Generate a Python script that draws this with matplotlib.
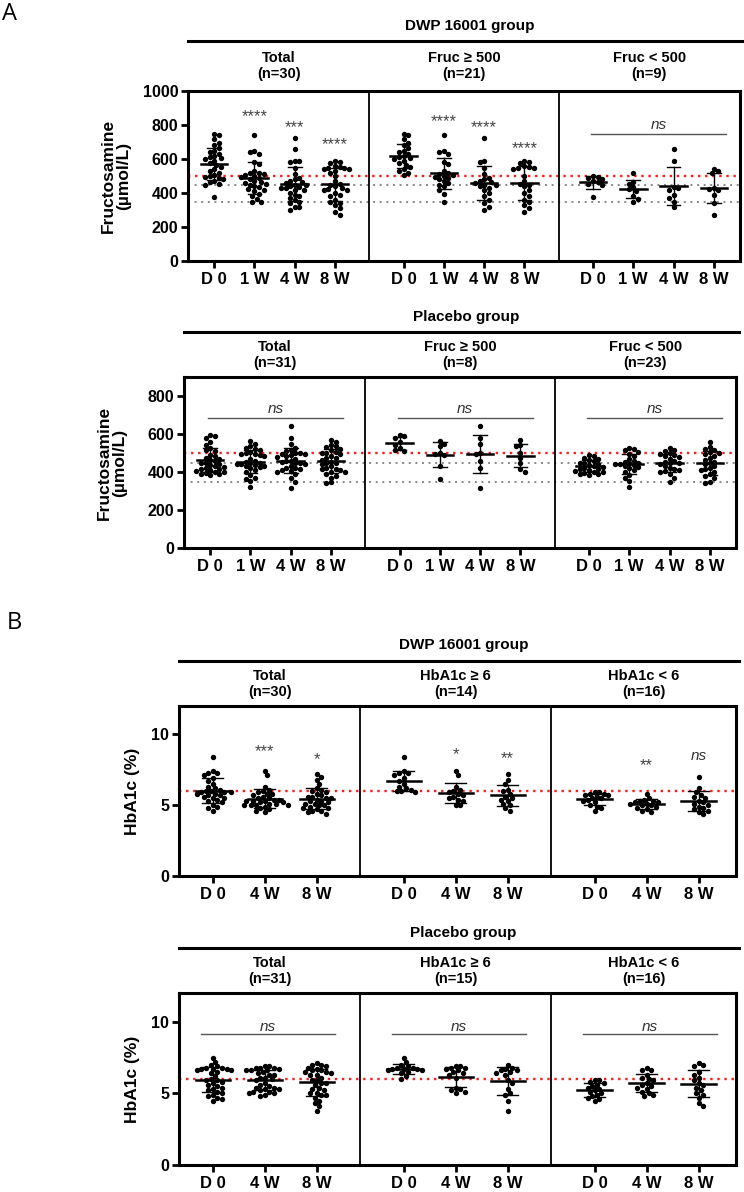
import matplotlib
matplotlib.use('Agg')
import matplotlib.pyplot as plt
import matplotlib.transforms as mtransforms
from matplotlib.lines import Line2D
import numpy as np

plt.rcParams['font.family'] = ['Liberation Sans', 'DejaVu Sans']
plt.rcParams['font.weight'] = 'bold'

# ---- data ----
cats_fru = ['D 0', '1 W', '4 W', '8 W']
cats_hba = ['D 0', '4 W', '8 W']

# Fructosamine, DWP 16001 group
dwp_fru_hi = [  # Fruc >= 500, n=21
    [750, 740, 715, 695, 680, 665, 650, 640, 630, 620, 612, 605, 598, 590, 578, 565, 555, 540, 528, 518, 505],
    [740, 650, 640, 630, 580, 570, 530, 520, 510, 505, 500, 495, 490, 480, 470, 460, 450, 440, 420, 395, 345],
    [725, 590, 580, 550, 510, 490, 480, 470, 465, 460, 450, 445, 440, 430, 420, 400, 380, 360, 340, 320, 300],
    [590, 585, 575, 560, 555, 550, 545, 540, 500, 470, 455, 450, 440, 420, 400, 380, 360, 345, 330, 310, 290],
]
dwp_fru_lo = [  # Fruc < 500, n=9
    [500, 495, 490, 480, 470, 465, 455, 445, 375],
    [520, 465, 455, 435, 425, 410, 385, 365, 350],
    [660, 590, 435, 430, 420, 390, 370, 350, 320],
    [540, 530, 515, 430, 425, 420, 390, 340, 270],
]

# Fructosamine, placebo group
pla_fru_hi = [  # n=8
    [595, 590, 580, 560, 540, 525, 515, 512],
    [565, 545, 535, 500, 495, 490, 430, 365],
    [640, 580, 545, 500, 495, 460, 420, 315],
    [570, 540, 535, 500, 475, 450, 415, 400],
]
pla_fru_lo = [  # n=23
    [490, 482, 475, 468, 462, 456, 450, 445, 440, 435, 430, 426, 422, 418, 414, 410, 406, 402, 398, 394, 390, 387, 385],
    [525, 520, 515, 505, 495, 485, 470, 460, 455, 450, 445, 440, 440, 435, 430, 425, 420, 410, 400, 385, 370, 355, 320],
    [525, 515, 510, 500, 495, 490, 485, 480, 470, 460, 455, 450, 445, 440, 430, 420, 415, 410, 405, 400, 390, 370, 350],
    [560, 530, 520, 515, 505, 500, 495, 485, 475, 465, 455, 450, 440, 430, 420, 415, 410, 400, 390, 380, 370, 345, 340],
]

# HbA1c, DWP 16001 group
dwp_hba_hi = [  # n=14
    [8.4, 7.4, 7.3, 7.3, 7.1, 6.9, 6.7, 6.5, 6.3, 6.2, 6.1, 6.0, 6.0, 5.9],
    [7.4, 7.1, 6.3, 6.1, 6.0, 5.9, 5.8, 5.7, 5.6, 5.5, 5.4, 5.3, 5.0, 5.0],
    [7.2, 6.8, 6.5, 6.1, 6.0, 5.8, 5.6, 5.5, 5.4, 5.3, 5.1, 5.0, 4.8, 4.6],
]
dwp_hba_lo = [  # n=16
    [5.9, 5.9, 5.8, 5.8, 5.7, 5.7, 5.6, 5.5, 5.5, 5.4, 5.3, 5.2, 5.0, 4.9, 4.8, 4.6],
    [5.8, 5.5, 5.4, 5.3, 5.3, 5.2, 5.2, 5.1, 5.1, 5.0, 5.0, 4.9, 4.8, 4.7, 4.6, 4.5],
    [7.0, 6.2, 5.9, 5.7, 5.6, 5.5, 5.3, 5.2, 5.1, 5.0, 4.9, 4.8, 4.7, 4.6, 4.5, 4.4],
]

# HbA1c, placebo group
pla_hba_hi = [  # n=15
    [7.5, 7.2, 7.0, 6.9, 6.8, 6.8, 6.7, 6.7, 6.7, 6.6, 6.6, 6.5, 6.4, 6.2, 6.0],
    [6.9, 6.9, 6.8, 6.8, 6.7, 6.6, 6.5, 6.4, 6.3, 6.1, 5.4, 5.3, 5.2, 5.1, 5.0],
    [7.0, 6.8, 6.7, 6.6, 6.6, 6.5, 6.4, 6.3, 5.9, 5.7, 5.3, 5.0, 4.9, 4.5, 3.8],
]
pla_hba_lo = [  # n=16
    [5.9, 5.9, 5.8, 5.7, 5.6, 5.5, 5.4, 5.3, 5.2, 5.1, 5.0, 4.9, 4.8, 4.7, 4.6, 4.5],
    [6.8, 6.6, 6.6, 6.3, 6.1, 6.0, 5.9, 5.7, 5.6, 5.5, 5.4, 5.3, 5.1, 5.0, 4.9, 4.8],
    [7.1, 7.0, 6.9, 6.5, 6.3, 6.1, 5.9, 5.7, 5.6, 5.4, 5.2, 5.0, 4.9, 4.7, 4.3, 4.1],
]


def total(hi, lo):
    return [a + b for a, b in zip(hi, lo)]


W, H = 744, 1192
fig = plt.figure(figsize=(W / 100, H / 100), dpi=100)


def rect(left, top, right, bottom):
    return [left / W, 1 - bottom / H, (right - left) / W, (bottom - top) / H]


def swarm(vals, ppy, ppx, d=4.6):
    y = np.asarray(vals, float) * ppy
    order = np.argsort(-y, kind='stable')
    xs = np.zeros(len(y))
    done = []
    step = d * 0.5
    for n, i in enumerate(order):
        for k in range(60):
            if k == 0:
                cands = [0.0]
            elif n % 2:
                cands = [k * step, -k * step]
            else:
                cands = [-k * step, k * step]
            hit = None
            for c in cands:
                if all((c - xs[j]) ** 2 + (y[i] - y[j]) ** 2 >= d * d for j in done):
                    hit = c
                    break
            if hit is not None:
                xs[i] = hit
                break
        done.append(i)
    return xs / ppx


def draw_row(box, title, tys, heads, panels, cats, off, ylim, yticks, ylabel, ylab_x,
             refs, notes, half, cap, xpad=(0.65, 0.65)):
    left, top, right, bottom = box
    ax = fig.add_axes(rect(left, top, right, bottom))
    n = len(cats)
    xmin = -xpad[0]
    xmax = (len(panels) - 1) * off + n - 1 + xpad[1]
    ax.set_xlim(xmin, xmax)
    ax.set_ylim(*ylim)
    ppx = ax.bbox.width / (xmax - xmin)
    ppy = ax.bbox.height / (ylim[1] - ylim[0])

    for yv, col, lw, dash in refs:
        ax.axhline(yv, color=col, lw=lw, ls=(0, dash), zorder=1)

    ticks, labels = [], []
    for k, groups in enumerate(panels):
        for i, vals in enumerate(groups):
            x0 = k * off + i
            ticks.append(x0)
            labels.append(cats[i])
            dx = swarm(vals, ppy, ppx)
            ax.scatter(x0 + dx, vals, s=15, c='black', lw=0, zorder=3)
            m, sd = np.mean(vals), np.std(vals, ddof=1)
            ax.plot([x0 - half, x0 + half], [m, m], color='black', lw=1.8, zorder=4)
            ax.plot([x0, x0], [m - sd, m + sd], color='black', lw=1.0, zorder=4)
            for v in (m - sd, m + sd):
                ax.plot([x0 - cap, x0 + cap], [v, v], color='black', lw=1.0, zorder=4)
        if k > 0:
            ax.axvline(k * off - (off - (n - 1)) / 2, color='black', lw=1.3, zorder=2)

        for note in notes[k]:
            if note[0] == 'star':
                _, i, txt, yv = note
                ax.text(k * off + i, yv, txt, ha='center', va='center', fontsize=12,
                        fontweight='normal', color='#444444')
            elif note[0] == 'nsonly':
                _, i, yv = note
                ax.text(k * off + i, yv, 'ns', ha='center', va='center', fontsize=11,
                        fontweight='normal', style='italic', color='#333333')
            else:
                _, yt, yl, a, b = note
                ax.plot([k * off + a, k * off + n - 1 + b], [yl, yl], color='#555555', lw=1.0)
                ax.text(k * off + (n - 1) / 2 + (a + b) / 2, yt, 'ns', ha='center', va='center',
                        fontsize=11, fontweight='normal', style='italic', color='#333333')

    ax.set_xticks(ticks)
    ax.set_xticklabels(labels)
    ax.set_yticks(yticks)
    for s in ['top', 'right', 'bottom', 'left']:
        ax.spines[s].set_linewidth(2.2)
    ax.tick_params(axis='both', length=5, width=2, direction='out', pad=2)
    ax.tick_params(axis='x', labelsize=12, pad=3)
    ax.tick_params(axis='y', labelsize=11.5)

    # headers
    tr = mtransforms.blended_transform_factory(ax.transData, fig.transFigure)
    cx = (left + right) / 2 + 6
    fig.text(cx / W, 1 - tys[0] / H, title, ha='center', va='center', fontsize=11)
    fig.add_artist(Line2D([left / W, (right + 3) / W], [1 - tys[1] / H] * 2,
                          color='black', lw=2.2))
    bounds = [xmin] + [k * off - (off - (n - 1)) / 2 for k in range(1, len(panels))] + [xmax]
    for k, head in enumerate(heads):
        ax.text((bounds[k] + bounds[k + 1]) / 2, 1 - tys[2] / H, head, transform=tr,
                ha='center', va='center', fontsize=10.5, linespacing=1.1)

    fig.text(ylab_x / W, 1 - (top + bottom) / 2 / H, ylabel, rotation=90, ha='center',
             va='center', fontsize=12.5, linespacing=0.95)
    return ax


fru_refs = [(500, '#ff1a1a', 1.7, (1, 2.0)), (450, '#888888', 1.4, (1, 2.4)),
            (350, '#888888', 1.4, (1, 2.4))]
hba_refs = [(6, '#ff1a1a', 1.7, (1, 2.0))]

# A: DWP 16001
draw_row((188, 91, 740, 261), 'DWP 16001 group', (26, 41, 66),
         ['Total\n(n=30)', 'Fruc \u2265 500\n(n=21)', 'Fruc < 500\n(n=9)'],
         [total(dwp_fru_hi, dwp_fru_lo), dwp_fru_hi, dwp_fru_lo], cats_fru, 4.7,
         (0, 1000), [0, 200, 400, 600, 800, 1000], 'Fructosamine\n(\u00b5mol/L)', 116,
         fru_refs,
         [[('star', 1, '****', 848), ('star', 2, '***', 786), ('star', 3, '****', 685)],
          [('star', 1, '****', 820), ('star', 2, '****', 785), ('star', 3, '****', 663)],
          [('ns', 800, 745, -0.05, 0.3)]],
         0.33, 0.17)

# A: placebo
draw_row((184, 377, 736, 548), 'Placebo group', (317, 332, 355),
         ['Total\n(n=31)', 'Fruc \u2265 500\n(n=8)', 'Fruc < 500\n(n=23)'],
         [total(pla_fru_hi, pla_fru_lo), pla_fru_hi, pla_fru_lo], cats_fru, 4.7,
         (0, 900), [0, 200, 400, 600, 800], 'Fructosamine\n(\u00b5mol/L)', 112,
         fru_refs,
         [[('ns', 731, 686, -0.05, 0.3)], [('ns', 731, 686, -0.05, 0.3)],
          [('ns', 731, 686, -0.05, 0.3)]],
         0.33, 0.17)

# B: DWP 16001
draw_row((179, 706, 736, 876), 'DWP 16001 group', (645, 661, 684),
         ['Total\n(n=30)', 'HbA1c \u2265 6\n(n=14)', 'HbA1c < 6\n(n=16)'],
         [total(dwp_hba_hi, dwp_hba_lo), dwp_hba_hi, dwp_hba_lo], cats_hba, 3.67,
         (0, 12), [0, 5, 10], 'HbA1c (%)', 133,
         hba_refs,
         [[('star', 1, '***', 8.8), ('star', 2, '*', 8.25)],
          [('star', 1, '*', 8.6), ('star', 2, '**', 8.3)],
          [('star', 1, '**', 7.8), ('nsonly', 2, 8.5)]],
         0.33, 0.2, xpad=(0.65, 0.72))

# B: placebo
draw_row((179, 993, 736, 1165), 'Placebo group', (933, 948, 971),
         ['Total\n(n=31)', 'HbA1c \u2265 6\n(n=15)', 'HbA1c < 6\n(n=16)'],
         [total(pla_hba_hi, pla_hba_lo), pla_hba_hi, pla_hba_lo], cats_hba, 3.67,
         (0, 12), [0, 5, 10], 'HbA1c (%)', 133,
         hba_refs,
         [[('ns', 9.6, 9.15, -0.22, 0.35)], [('ns', 9.6, 9.15, -0.22, 0.35)],
          [('ns', 9.6, 9.15, -0.22, 0.35)]],
         0.33, 0.2, xpad=(0.65, 0.72))

fig.text(10 / W, 1 - 14 / H, 'A', ha='center', va='center', fontsize=17,
         fontweight='normal', family=['Open Sans', 'DejaVu Sans'])
fig.text(14 / W, 1 - 623 / H, 'B', ha='center', va='center', fontsize=17,
         fontweight='normal', family=['Open Sans', 'DejaVu Sans'])

fig.savefig('out.png', dpi=100)
